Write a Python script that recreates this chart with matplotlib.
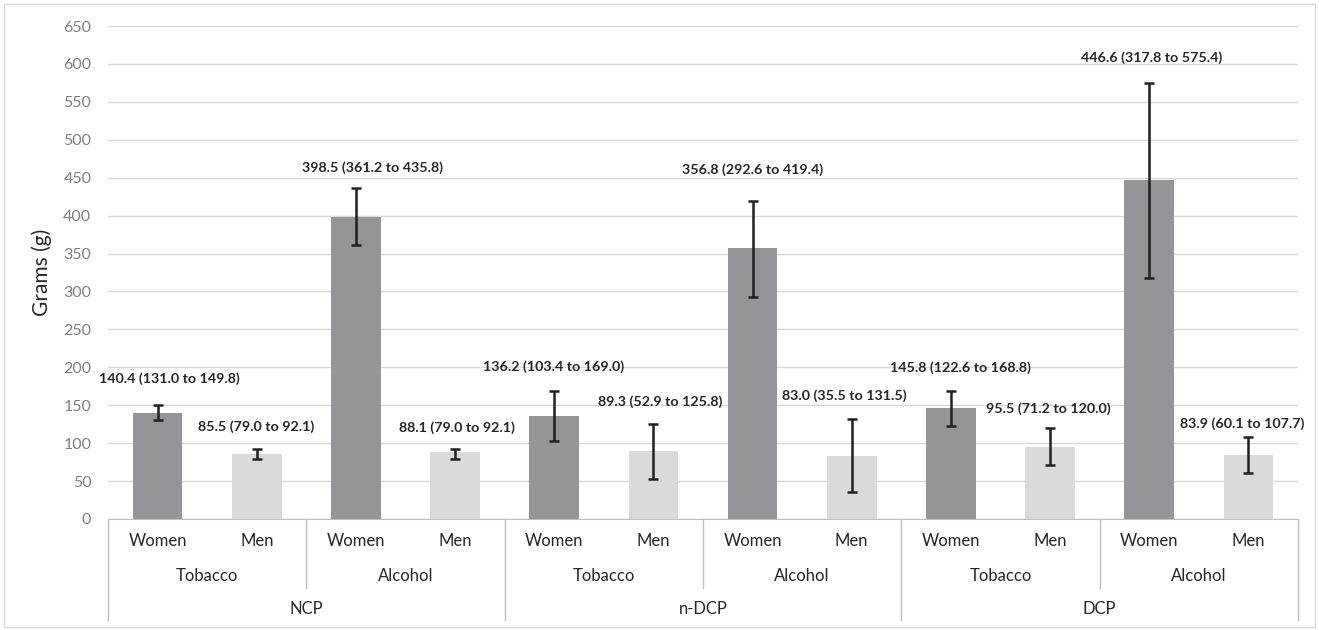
import numpy as np
import matplotlib
matplotlib.use("Agg")
from matplotlib import pyplot as plt
from matplotlib.patches import Rectangle

plt.rcParams['font.family'] = ['Lato', 'DejaVu Sans']

# Data
groups = ["NCP", "n-DCP", "DCP"]
substances = ["Tobacco", "Alcohol"]
sexes = ["Women", "Men"]
means = [140.4, 85.5, 398.5, 88.1, 136.2, 89.3, 356.8, 83.0, 145.8, 95.5, 446.6, 83.9]
lower = [131.0, 79.0, 361.2, 79.0, 103.4, 52.9, 292.6, 35.5, 122.6, 71.2, 317.8, 60.1]
upper = [149.8, 92.1, 435.8, 92.1, 169.0, 125.8, 419.4, 131.5, 168.8, 120.0, 575.4, 107.7]

# label nudges (pixels) relative to the top of each error bar
label_dx = [12, -1, 17, 2, -1, 7, 0, -7, 10, -2, 2, -6]
label_dy = [27, 22, 21, 21, 24, 22, 31, 24, 23, 19, 25, 14]

colWomen = '#939598'
colMen = '#d9dadb'

W, H = 1319, 630
fig = plt.figure(figsize=(W / 100, H / 100), dpi=100)
fig.patches.append(Rectangle((4 / W, 3 / H), 1 - 8 / W, 1 - 7 / H, transform=fig.transFigure,
                             fill=False, edgecolor='#d9d9d9', linewidth=1))

x0, x1, yb, yt = 108, 1298, 519, 26
ax = fig.add_axes([x0 / W, 1 - yb / H, (x1 - x0) / W, (yb - yt) / H])
axH = yb - yt

n = len(means)
x = np.arange(n)
colors = [colWomen if i % 2 == 0 else colMen for i in range(n)]
means_a = np.array(means)
err = [means_a - np.array(lower), np.array(upper) - means_a]

ax.bar(x, means, width=0.5, color=colors, zorder=2)
ax.errorbar(x, means, yerr=err, fmt='none', ecolor='#231f20', elinewidth=1.8,
            capsize=3.5, capthick=1.8, zorder=3)

ax.set_xlim(-0.5, n - 0.5)
ax.set_ylim(0, 650)
ax.set_yticks(np.arange(0, 651, 50))
ax.yaxis.grid(True, color='#d9d9d9', linewidth=1)
ax.set_axisbelow(True)
ax.tick_params(axis='y', length=0, labelsize=11.5, labelcolor='#7f7f7f', pad=12)
ax.set_xticks([])
for s in ['top', 'right', 'left']:
    ax.spines[s].set_visible(False)
ax.spines['bottom'].set_color('#bfbfbf')
ax.set_ylabel('Grams (g)', fontsize=15, color='#262626', labelpad=8)

# data labels
for i in range(n):
    lab = f"{means[i]:.1f} ({lower[i]:.1f} to {upper[i]:.1f})"
    ax.annotate(lab, xy=(x[i], upper[i]), xytext=(label_dx[i] * 0.72, label_dy[i] * 0.72),
                textcoords='offset points', ha='center', va='center',
                fontsize=10.3, fontweight='bold', color='#262626')

# multi-level category axis
trans = ax.get_xaxis_transform()
def fy(py):
    return (yb - py) / axH

for i in range(n):
    ax.text(x[i], fy(541), sexes[i % 2], transform=trans, ha='center', va='center',
            fontsize=12, color='#262626')
for j in range(len(groups) * len(substances)):
    ax.text(2 * j + 0.5, fy(576), substances[j % 2], transform=trans, ha='center',
            va='center', fontsize=12, color='#262626')
for k in range(len(groups)):
    ax.text(4 * k + 1.5, fy(609), groups[k], transform=trans, ha='center', va='center',
            fontsize=12, color='#262626')

for b in np.arange(-0.5, n, 2):
    long_line = (b + 0.5) % 4 == 0
    ax.plot([b, b], [0, fy(620) if long_line else fy(588)], transform=trans,
            color='#bfbfbf', linewidth=1, clip_on=False)

fig.savefig('out.png', dpi=100)
